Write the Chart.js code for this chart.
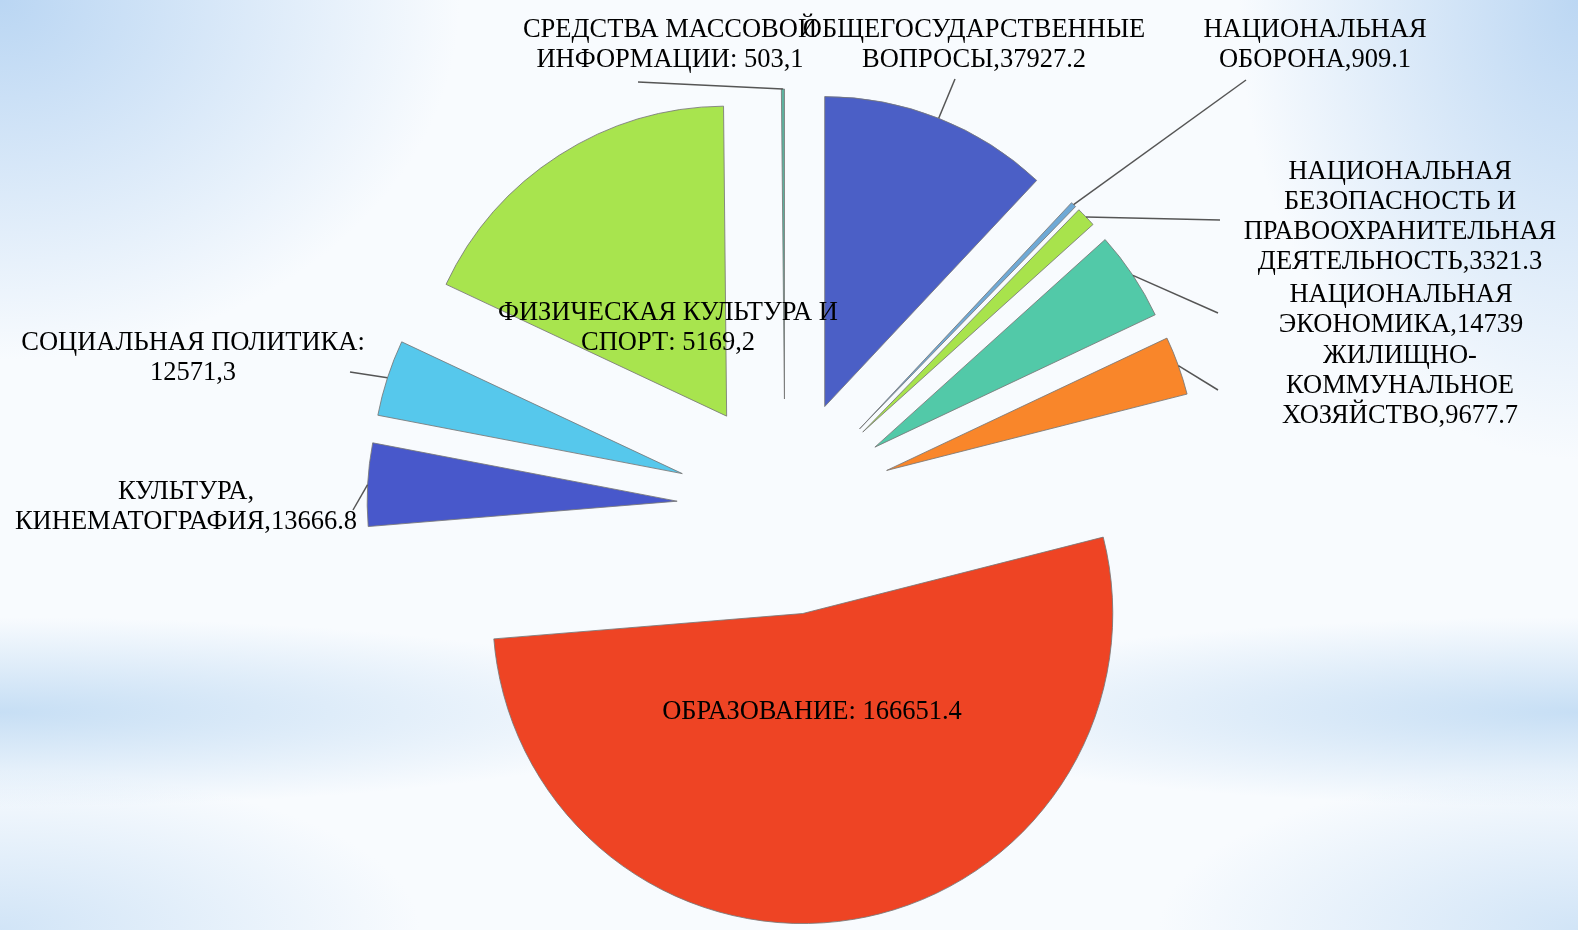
<!DOCTYPE html>
<html lang="ru">
<head>
<meta charset="utf-8">
<title>Расходы бюджета</title>
<script src="https://cdn.jsdelivr.net/npm/chart.js@4.4.1/dist/chart.umd.min.js"></script>
<style>
  html, body { margin: 0; padding: 0; }
  body {
    width: 1578px;
    height: 930px;
    overflow: hidden;
    background:
      radial-gradient(ellipse 460px 360px at 0 0, rgba(186, 214, 243, 1), rgba(186, 214, 243, 0)),
      radial-gradient(ellipse 340px 460px at 100% 0, rgba(188, 215, 243, 1), rgba(188, 215, 243, 0)),
      radial-gradient(ellipse 700px 95px at 0 712px, rgba(196, 221, 244, 0.95), rgba(196, 221, 244, 0)),
      radial-gradient(ellipse 700px 95px at 100% 712px, rgba(196, 221, 244, 0.95), rgba(196, 221, 244, 0)),
      radial-gradient(ellipse 420px 160px at 0 100%, rgba(205, 226, 246, 0.9), rgba(205, 226, 246, 0)),
      radial-gradient(ellipse 420px 160px at 100% 100%, rgba(205, 226, 246, 0.9), rgba(205, 226, 246, 0)),
      #f8fbfe;
  }
  .chart-box { position: relative; width: 1578px; height: 930px; }
</style>
</head>
<body>
<div class="chart-box"><canvas id="budgetChart"></canvas></div>
<script>
// categories in the order the slices go clockwise from 12 o'clock
const categories = [
  'Общегосударственные вопросы',
  'Национальная оборона',
  'Национальная безопасность и правоохранительная деятельность',
  'Национальная экономика',
  'Жилищно-коммунальное хозяйство',
  'Образование',
  'Культура, кинематография',
  'Социальная политика',
  'Физическая культура и спорт',
  'Средства массовой информации'
];

// slice sizes (the sport slice is drawn much bigger than its label says)
const budgetValues = [37927.2, 909.1, 3321.3, 14739, 9677.7, 166651.4, 13666.8, 12571.3, 56500, 503.1];

// data labels exactly as printed
const labelLines = [
  ['ОБЩЕГОСУДАРСТВЕННЫЕ', 'ВОПРОСЫ,37927.2'],
  ['НАЦИОНАЛЬНАЯ', 'ОБОРОНА,909.1'],
  ['НАЦИОНАЛЬНАЯ', 'БЕЗОПАСНОСТЬ И', 'ПРАВООХРАНИТЕЛЬНАЯ', 'ДЕЯТЕЛЬНОСТЬ,3321.3'],
  ['НАЦИОНАЛЬНАЯ', 'ЭКОНОМИКА,14739'],
  ['ЖИЛИЩНО-', 'КОММУНАЛЬНОЕ', 'ХОЗЯЙСТВО,9677.7'],
  ['ОБРАЗОВАНИЕ: 166651.4'],
  ['КУЛЬТУРА,', 'КИНЕМАТОГРАФИЯ,13666.8'],
  ['СОЦИАЛЬНАЯ ПОЛИТИКА:', '12571,3'],
  ['ФИЗИЧЕСКАЯ КУЛЬТУРА И', 'СПОРТ: 5169,2'],
  ['СРЕДСТВА МАССОВОЙ', 'ИНФОРМАЦИИ: 503,1']
];

const sliceColors = [
  '#4b5fc6', '#6fa9d6', '#a8e34c', '#52c9a8', '#f9862a',
  '#ee4424', '#4858cb', '#56c8ec', '#a8e44e', '#5db3a0'
];

// where each label sits (x = centre of text, y = first line) and where its leader line ends
const labelPlacement = [
  { x: 974, y: 30, lineTo: [955, 79] },
  { x: 1315, y: 30, lineTo: [1246, 80] },
  { x: 1400, y: 172, lineTo: [1220, 220] },
  { x: 1401, y: 295, lineTo: [1218, 313] },
  { x: 1400, y: 356, lineTo: [1218, 390] },
  { x: 812, y: 712, lineTo: null },
  { x: 186, y: 492, lineTo: [353, 510] },
  { x: 193, y: 343, lineTo: [350, 372] },
  { x: 668, y: 313, lineTo: null },
  { x: 670, y: 30, lineTo: [638, 82] }
];

const explodeDistance = 108;
const labelFont = "26.5px 'Liberation Serif', 'DejaVu Serif', serif";
const lineHeight = 30;

// pushes every slice out along its middle angle (like Excel point explosion)
const explodePlugin = {
  id: 'explodeSlices',
  afterDatasetUpdate(chart, args) {
    args.meta.data.forEach(arc => {
      const mid = (arc.startAngle + arc.endAngle) / 2;
      arc.x += explodeDistance * Math.cos(mid);
      arc.y += explodeDistance * Math.sin(mid);
    });
  }
};

// data labels + leader lines
const labelPlugin = {
  id: 'sliceLabels',
  afterDatasetsDraw(chart) {
    const ctx = chart.ctx;
    const arcs = chart.getDatasetMeta(0).data;
    ctx.save();
    ctx.strokeStyle = '#555';
    ctx.lineWidth = 1.5;
    arcs.forEach((arc, i) => {
      const place = labelPlacement[i];
      if (!place.lineTo) return;
      const mid = (arc.startAngle + arc.endAngle) / 2;
      ctx.beginPath();
      ctx.moveTo(arc.x + arc.outerRadius * Math.cos(mid), arc.y + arc.outerRadius * Math.sin(mid));
      ctx.lineTo(place.lineTo[0], place.lineTo[1]);
      ctx.stroke();
    });
    ctx.font = labelFont;
    ctx.fillStyle = '#000';
    ctx.textAlign = 'center';
    ctx.textBaseline = 'middle';
    labelLines.forEach((lines, i) => {
      const place = labelPlacement[i];
      lines.forEach((txt, k) => ctx.fillText(txt, place.x, place.y + k * lineHeight));
    });
    ctx.restore();
  }
};

const ctx = document.getElementById('budgetChart').getContext('2d');

new Chart(ctx, {
  type: 'pie',
  data: {
    labels: categories,
    datasets: [{
      data: budgetValues,
      backgroundColor: sliceColors,
      borderColor: 'rgba(120, 120, 120, 0.85)',
      borderWidth: 1
    }]
  },
  options: {
    responsive: true,
    maintainAspectRatio: false,
    animation: false,
    radius: 310,
    layout: { padding: { left: 0, right: 8, top: 84, bottom: 0 } },
    plugins: {
      legend: { display: false },
      tooltip: { enabled: false }
    }
  },
  plugins: [explodePlugin, labelPlugin]
});
</script>
</body>
</html>
